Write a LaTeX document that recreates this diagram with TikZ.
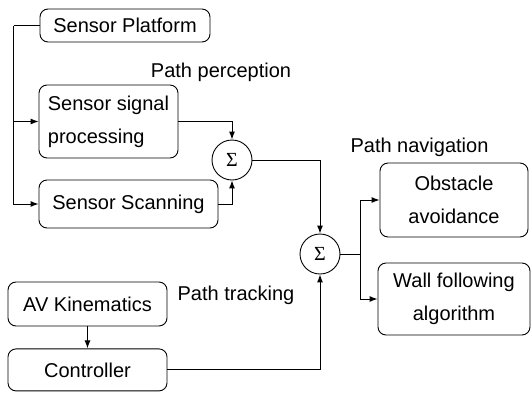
\documentclass[tikz,border=0pt]{standalone}
\usepackage{fontspec}
\setmainfont{Liberation Sans}
\newfontfamily\sigmafont{Liberation Serif}
\usetikzlibrary{arrows.meta, positioning}
\tikzset{
    box/.style={
        draw,
        rounded corners=8pt,
        line width=0.9pt,
        align=center,
        inner sep=2pt
    },
    sumnode/.style={
        draw,
        circle,
        minimum size=40pt,
        inner sep=0pt,
        line width=0.9pt,
        font=\sigmafont\fontsize{20}{20}\selectfont
    },
    line/.style={-{Latex[length=8pt, width=6pt]}, line width=1pt},
    wire/.style={line width=1pt},
    every node/.style={font=\fontsize{20}{33}\selectfont}
}

\begin{document}
\begin{tikzpicture}[x=1pt, y=-1pt]
\useasboundingbox (0,0) rectangle (531,392);

\node[box, minimum width=170pt, minimum height=33pt] (platform) at (125,25.5) {Sensor Platform};
\node[box, minimum width=139pt, minimum height=73pt, align=left] (signal) at (108.5,121.5) {Sensor signal\\processing};
\node[box, minimum width=179pt, minimum height=48pt] (scanning) at (128.5,204) {Sensor Scanning};
\node[sumnode] (sum1) at (232,160) {Σ};

\node[sumnode] (sum2) at (320,254) {Σ};
\node[box, minimum width=148pt, minimum height=74pt] (obstacle) at (454,200) {Obstacle\\avoidance};
\node[box, minimum width=152pt, minimum height=72pt] (wall) at (454,299) {Wall following\\algorithm};

\node[box, minimum width=159pt, minimum height=44pt] (avkin) at (87.5,304) {AV Kinematics};
\node[box, minimum width=159pt, minimum height=42pt, below=22pt of avkin] (controller) {Controller};

\node (perception) at (221,72) {Path perception};
\node (navigation) at (419.5,147) {Path navigation};
\node (tracking) at (236,295) {Path tracking};

\coordinate[left=26pt of platform] (bus);
\coordinate[right=20pt of sum2] (split);

\draw[wire] (platform.west) -- (bus);
\draw[line] (bus) |- (signal.west);
\draw[line] (bus) |- (scanning.west);

\draw[line] (signal.east) -| (sum1.north);
\draw[line] (scanning.east) -| (sum1.south);
\draw[line] (sum1.east) -| (sum2.north);

\draw[line] (avkin) -- (controller);
\draw[line] (controller.east) -| (sum2.south);

\draw[wire] (sum2.east) -- (split);
\draw[line] (split) |- (obstacle.west);
\draw[line] (split) |- (wall.west);
\end{tikzpicture}
\end{document}
